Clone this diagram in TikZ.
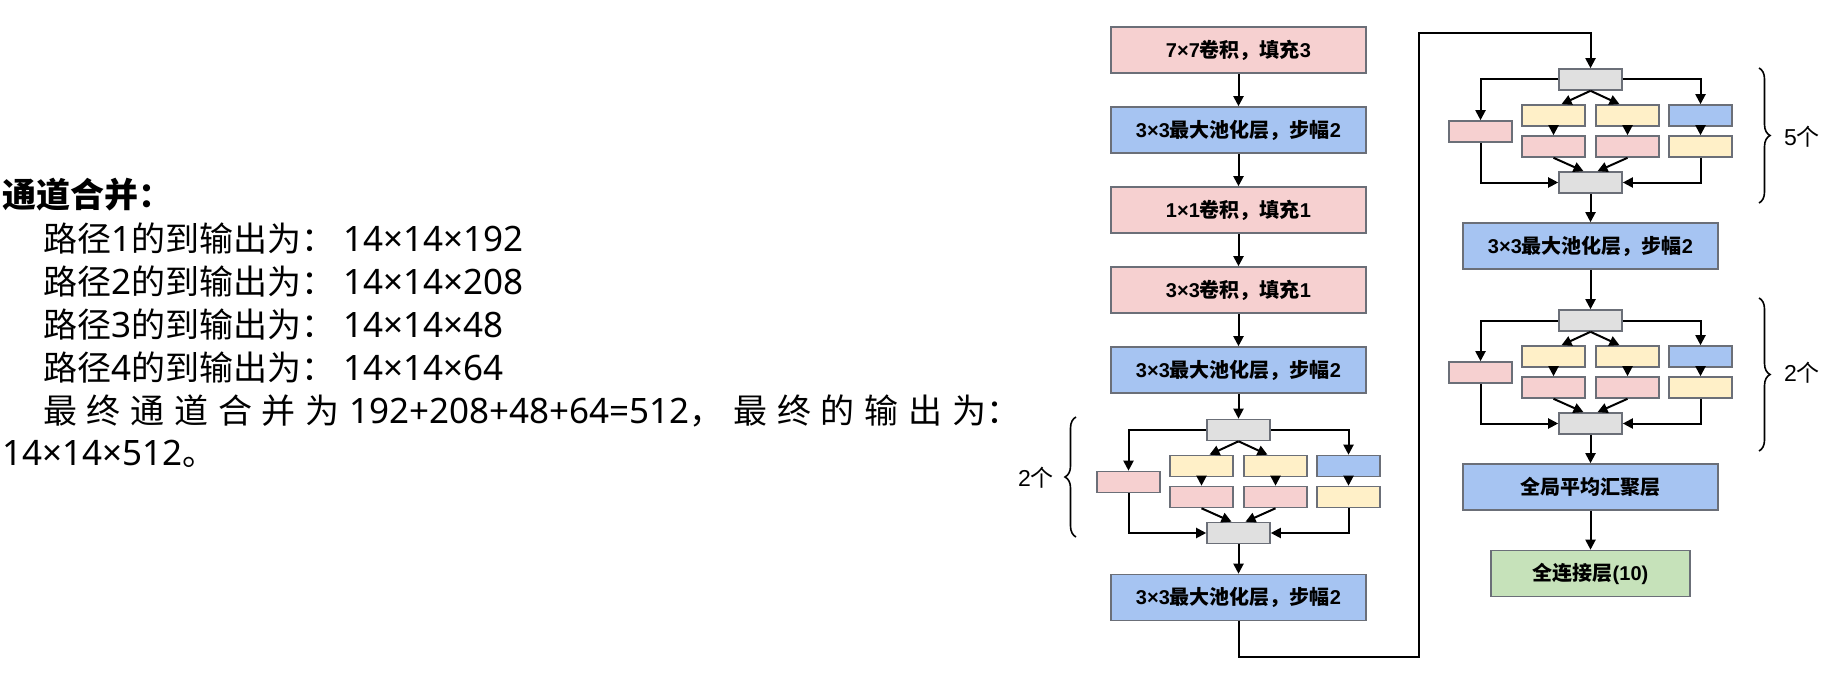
\documentclass[tikz,border=0pt]{standalone}
\usepackage{fontspec}
\setmainfont{Noto Sans CJK SC}
\newfontfamily\latinfont{Liberation Sans}
\newfontfamily\notefont{Noto Sans}
\usepackage{tikz}
\usetikzlibrary{arrows.meta,%
                decorations.pathreplacing}

\definecolor{ConvRed}{HTML}{F6D0D0}
\definecolor{PoolBlue}{HTML}{A6C4F2}
\definecolor{ReduceYellow}{HTML}{FFF0C8}
\definecolor{ConcatGray}{HTML}{E0E0E0}
\definecolor{DenseGreen}{HTML}{C6E2BA}
\definecolor{EdgeGray}{HTML}{6B6F78}

% numbers are set in a latin face
\newcommand{\Num}[1]{{\latinfont #1}}
\newcommand{\Val}[1]{{\notefont\fontsize{35}{40}\selectfont #1}}

% one inception block: prefix, centre x, centre y of the split box
\newcommand{\InceptionBlock}[3]{%
  \node[SmallStyle,fill=ConcatGray]   (#1-in)  at (#2,#3) {};
  \node[SmallStyle,fill=ConvRed]      (#1-a)   at (#2-110,#3+52) {};
  \node[SmallStyle,fill=ReduceYellow] (#1-b1)  at (#2-37,#3+36) {};
  \node[SmallStyle,fill=ConvRed]      (#1-b2)  at (#2-37,#3+67) {};
  \node[SmallStyle,fill=ReduceYellow] (#1-c1)  at (#2+37,#3+36) {};
  \node[SmallStyle,fill=ConvRed]      (#1-c2)  at (#2+37,#3+67) {};
  \node[SmallStyle,fill=PoolBlue]     (#1-d1)  at (#2+110,#3+36) {};
  \node[SmallStyle,fill=ReduceYellow] (#1-d2)  at (#2+110,#3+67) {};
  \node[SmallStyle,fill=ConcatGray]   (#1-out) at (#2,#3+103) {};
  \draw[FlowStyle] (#1-in.west) -| (#1-a.north);
  \draw[FlowStyle] (#1-in.east) -| (#1-d1.north);
  \draw[FlowStyle] (#1-in.south) -- ([xshift=8pt]#1-b1.north);
  \draw[FlowStyle] (#1-in.south) -- ([xshift=-8pt]#1-c1.north);
  \draw[FlowStyle] (#1-b1.south) -- (#1-b2.north);
  \draw[FlowStyle] (#1-c1.south) -- (#1-c2.north);
  \draw[FlowStyle] (#1-d1.south) -- (#1-d2.north);
  \draw[FlowStyle] (#1-a.south) |- (#1-out.west);
  \draw[FlowStyle] (#1-d2.south) |- (#1-out.east);
  \draw[FlowStyle] (#1-b2.south) -- ([xshift=-7pt]#1-out.north);
  \draw[FlowStyle] (#1-c2.south) -- ([xshift=7pt]#1-out.north);
}

\begin{document}
\begin{tikzpicture}[x=1pt,y=-1pt]
  \useasboundingbox (0,0) rectangle (1828,674);

  \tikzstyle{BlockStyle}=[draw=EdgeGray, line width=1.6pt, inner sep=0pt,
    minimum width=255pt, minimum height=46pt,
    font=\fontsize{20}{24}\selectfont\bfseries]
  \tikzstyle{SmallStyle}=[draw=EdgeGray, line width=1.6pt, inner sep=0pt,
    minimum width=63pt, minimum height=21pt]
  \tikzstyle{FlowStyle}=[line width=2pt, -{Triangle[length=10pt,width=10pt]}]
  \tikzstyle{BraceStyle}=[line width=1.6pt, decorate,
    decoration={brace, amplitude=11pt}]
  \tikzstyle{TextStyle}=[anchor=west, inner sep=0pt,
    font=\fontsize{34}{40}\selectfont]
  \tikzstyle{CountStyle}=[inner sep=0pt, font=\fontsize{23}{27}\selectfont]

  % notes on the left
  \node[TextStyle,font=\fontsize{34}{40}\selectfont\bfseries] (title) at (2,195) {通道合并：};
  \node[TextStyle] (path1) at (43,239) {路径\Val{1}的到输出为：\hspace{8pt}\Val{14×14×192}};
  \node[TextStyle] (path2) at (43,282) {路径\Val{2}的到输出为：\hspace{8pt}\Val{14×14×208}};
  \node[TextStyle] (path3) at (43,325) {路径\Val{3}的到输出为：\hspace{8pt}\Val{14×14×48}};
  \node[TextStyle] (path4) at (43,368) {路径\Val{4}的到输出为：\hspace{8pt}\Val{14×14×64}};
  \node[TextStyle] (total) at (43,411) {\makebox[977pt][s]{最\hfill 终\hfill 通\hfill
    道\hfill 合\hfill 并\hfill 为\hfill \Val{192+208+48+64=512}，\hfill 最\hfill
    终\hfill 的\hfill 输\hfill 出\hfill 为：}};
  \node[TextStyle] (result) at (2,454) {\Val{14×14×512}。};

  % left column
  \node[BlockStyle,fill=ConvRed]  (conv7) at (1238.5,50)  {\Num{7×7}卷积，填充\Num{3}};
  \node[BlockStyle,fill=PoolBlue] (pool1) at (1238.5,130) {\Num{3×3}最大池化层，步幅\Num{2}};
  \node[BlockStyle,fill=ConvRed]  (conv1) at (1238.5,210) {\Num{1×1}卷积，填充\Num{1}};
  \node[BlockStyle,fill=ConvRed]  (conv3) at (1238.5,290) {\Num{3×3}卷积，填充\Num{1}};
  \node[BlockStyle,fill=PoolBlue] (pool2) at (1238.5,370) {\Num{3×3}最大池化层，步幅\Num{2}};
  \InceptionBlock{incA}{1238.5}{430}
  \node[BlockStyle,fill=PoolBlue] (pool3) at (1238.5,597.5) {\Num{3×3}最大池化层，步幅\Num{2}};

  % right column
  \InceptionBlock{incB}{1590.5}{79.5}
  \node[BlockStyle,fill=PoolBlue] (pool4) at (1590.5,246) {\Num{3×3}最大池化层，步幅\Num{2}};
  \InceptionBlock{incC}{1590.5}{320.5}
  \node[BlockStyle,fill=PoolBlue] (gap) at (1590.5,487) {全局平均汇聚层};
  \node[BlockStyle,fill=DenseGreen,minimum width=199pt] (fc) at (1590.5,573.5) {全连接层\Num{(10)}};

  \coordinate (turnA) at (1419,657);
  \coordinate (turnB) at (1419,33);

  \draw[FlowStyle] (conv7) -- (pool1);
  \draw[FlowStyle] (pool1) -- (conv1);
  \draw[FlowStyle] (conv1) -- (conv3);
  \draw[FlowStyle] (conv3) -- (pool2);
  \draw[FlowStyle] (pool2) -- (incA-in);
  \draw[FlowStyle] (incA-out) -- (pool3);
  \draw[FlowStyle] (pool3.south) |- (turnA) -- (turnB) -| (incB-in.north);
  \draw[FlowStyle] (incB-out) -- (pool4);
  \draw[FlowStyle] (pool4) -- (incC-in);
  \draw[FlowStyle] (incC-out) -- (gap);
  \draw[FlowStyle] (gap) -- (fc);

  % repeat counts
  \draw[BraceStyle] (1076,537) -- (1076,417);
  \node[CountStyle] (countA) at (1036,478) {\Num{2}个};
  \draw[BraceStyle] (1759,68) -- (1759,203);
  \node[CountStyle] (countB) at (1802,137) {\Num{5}个};
  \draw[BraceStyle] (1759,298) -- (1759,451);
  \node[CountStyle] (countC) at (1802,373) {\Num{2}个};
\end{tikzpicture}
\end{document}
